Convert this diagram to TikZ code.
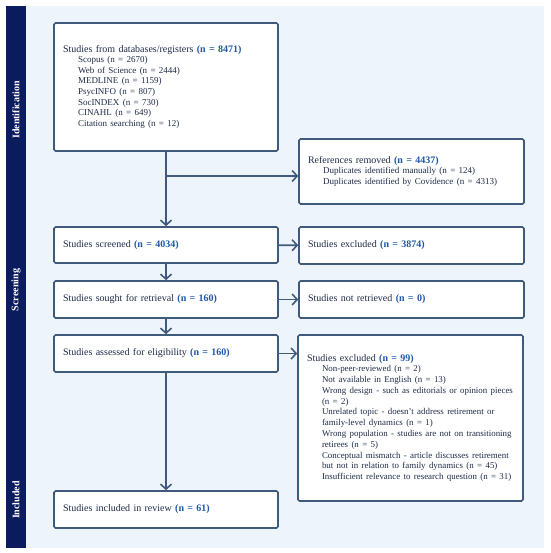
\documentclass[tikz,border=0pt]{standalone}
\usepackage{fontspec}
\setmainfont{Liberation Serif}
\usetikzlibrary{arrows.meta}

\definecolor{panelbg}{HTML}{EEF4FC}
\definecolor{sidebar}{HTML}{0A1C5E}
\definecolor{boxline}{HTML}{3F5A7A}
\definecolor{txt}{HTML}{1F2B48}
\definecolor{num}{HTML}{1F58A8}

\newcommand{\cnt}[1]{\textcolor{num}{\textbf{(n = #1)}}}
\newcommand{\itm}[1]{\hspace*{15pt}\mbox{#1}}

\begin{document}
\begin{tikzpicture}[x=1pt,y=-1pt]

\tikzset{stage/.style = {shape=rectangle,draw=boxline,line width=1.6pt,rounded corners=1.5pt,fill=white,
  text=txt,align=left,font=\fontsize{10}{10.8}\selectfont,inner xsep=9pt,text width=#1}}
\tikzset{phase/.style = {rotate=90,text=white,font=\fontsize{10}{11}\selectfont\bfseries}}
\tikzset{flow/.style = {draw=boxline,line width=1.6pt,-{Straight Barb[length=5pt,width=11pt,line width=1.6pt]}}}

\useasboundingbox (0,0) rectangle (550,553);
\fill[panelbg] (6,6) rectangle (544,548);
\fill[sidebar] (6,6) rectangle (26,548);

% phases
\node[phase] (ident) at (16,110) {Identification};
\node[phase] (screen) at (16,290) {Screening};
\node[phase] (incl) at (16,500) {Included};

% boxes
\node[stage=206pt, minimum height=128pt] (found) at (166,87) {Studies from databases/registers \cnt{8471}\\[-0.5pt]
  {\fontsize{9}{10.7}\selectfont\itm{Scopus (n = 2670)}\\
  \itm{Web of Science (n = 2444)}\\
  \itm{MEDLINE (n = 1159)}\\
  \itm{PsycINFO (n = 807)}\\
  \itm{SocINDEX (n = 730)}\\
  \itm{CINAHL (n = 649)}\\
  \itm{Citation searching (n = 12)}}};
\node[stage=207pt, minimum height=65pt] (removed) at (411.5,171.5) {References removed \cnt{4437}\\[-0.5pt]
  {\fontsize{9}{10.7}\selectfont\itm{Duplicates identified manually (n = 124)}\\
  \itm{Duplicates identified by Covidence (n = 4313)}}};
\node[stage=206pt, minimum height=36pt] (screened) at (166,245) {Studies screened \cnt{4034}};
\node[stage=207pt, minimum height=37pt] (excl1) at (411.5,245.5) {Studies excluded \cnt{3874}};
\node[stage=206pt, minimum height=37pt] (sought) at (166,299.5) {Studies sought for retrieval \cnt{160}};
\node[stage=207pt, minimum height=37pt] (notret) at (411.5,299.5) {Studies not retrieved \cnt{0}};
\node[stage=206pt, minimum height=37pt] (assessed) at (166,353.5) {Studies assessed for eligibility \cnt{160}};
\node[stage=207pt, minimum height=166pt] (excl2) at (410.5,418) {Studies excluded \cnt{99}\\[-0.5pt]
  {\fontsize{8.9}{10.8}\selectfont\itm{Non-peer-reviewed (n = 2)}\\
  \itm{Not available in English (n = 13)}\\
  \itm{Wrong design - such as editorials or opinion pieces}\\
  \itm{(n = 2)}\\
  \itm{Unrelated topic - doesn't address retirement or}\\
  \itm{family-level dynamics (n = 1)}\\
  \itm{Wrong population - studies are not on transitioning}\\
  \itm{retirees (n = 5)}\\
  \itm{Conceptual mismatch - article discusses retirement}\\
  \itm{but not in relation to family dynamics (n = 45)}\\
  \itm{Insufficient relevance to research question (n = 31)}}};
\node[stage=206pt, minimum height=37pt] (included) at (166,509.5) {Studies included in review \cnt{61}};

%arrows
\coordinate (split) at (166,176);
\draw[flow] (found) -- (screened);
\draw[flow] (split) -- (split -| removed.west);
\draw[flow] (screened) -- (excl1);
\draw[flow] (screened) -- (sought);
\draw[flow] (sought) -- (notret);
\draw[flow] (sought) -- (assessed);
\draw[flow] (assessed.east) -- (assessed.east -| excl2.west);
\draw[flow] (assessed) -- (included);

\end{tikzpicture}
\end{document}
